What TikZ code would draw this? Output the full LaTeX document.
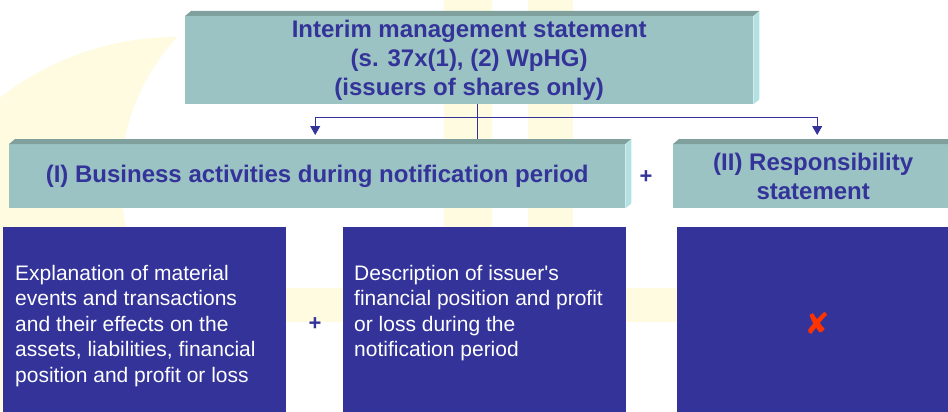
\documentclass[tikz,border=0pt]{standalone}
\usepackage{fontspec}
\setmainfont{Liberation Sans}
\newfontfamily\markfont{DejaVu Sans}
\usetikzlibrary{arrows.meta,calc,positioning}

\definecolor{boxfront}{HTML}{9CC3C3}
\definecolor{boxtop}{HTML}{7FA09D}
\definecolor{boxside}{HTML}{B4E2E2}
\definecolor{navy}{HTML}{333399}
\definecolor{paleyellow}{HTML}{FFFBE1}
\definecolor{crossred}{HTML}{FF3300}

\tikzset{
  slab/.style={rectangle, fill=boxfront, inner sep=0pt, anchor=north west,
    align=center, text=navy, font=\bfseries\fontsize{24}{29}\selectfont},
  block/.style={rectangle, fill=navy, inner sep=0pt, anchor=north west},
  blocktext/.style={anchor=north west, inner sep=0pt, align=left, text=white,
    font=\fontsize{21}{25.5}\selectfont},
  plus/.style={inner sep=0pt, text=navy, font=\bfseries\fontsize{22}{22}\selectfont},
  link/.style={draw=navy, line width=0.9pt},
  wmark/.style={fill=paleyellow},
}

\begin{document}
\begin{tikzpicture}[x=1pt,y=-1pt]
  \useasboundingbox (0,0) rectangle (948,412);
  \clip (0,0) rectangle (948,412);

  % faint logo behind everything
  \begin{scope}
    \clip (0,0) rectangle (190,412);
    \fill[wmark] (176,323) circle (286pt);
    \fill[white] (330,180) circle (209pt);
  \end{scope}
  \fill[wmark] (444,0) rectangle (492,412);
  \fill[wmark] (528,0) rectangle (573,412);
  \fill[wmark] (286,288) rectangle (677,322);

  % headings
  \node[slab, minimum width=568pt, minimum height=88pt] (ims) at (185,16)
    {Interim management statement\\(s. 37x(1), (2) WpHG)\\(issuers of shares only)};
  \node[slab, minimum width=616pt, minimum height=64pt] (act) at (9,144)
    {(I) Business activities during notification period};
  \node[slab, minimum width=280pt, minimum height=64pt] (resp) at (673,144)
    {(II) Responsibility\\statement};

  % content blocks
  \node[block, minimum width=283pt, minimum height=190pt] (expl) at (3,227) {};
  \node[block, minimum width=283pt, minimum height=190pt] (desc) at (343,227) {};
  \node[block, minimum width=276pt, minimum height=190pt] (none) at (677,227) {};

  \node[blocktext] (expltxt) at ([shift={(12,38)}]expl.north west)
    {Explanation of material\\events and transactions\\and their effects on the\\assets, liabilities, financial\\position and profit or loss};
  \node[blocktext] (desctxt) at ([shift={(11,38)}]desc.north west)
    {Description of issuer\textquotesingle s\\financial position and profit\\or loss during the\\notification period};
  \node[text=crossred, inner sep=0pt, font=\markfont\bfseries\fontsize{30}{30}\selectfont] (cross) at ([shift={(2,1)}]none.center) {✘};

  \node[plus] (plusI) at (646,177) {+};
  \node[plus] (plusII) at (315,324) {+};

  % connectors
  \coordinate (fork) at ([xshift=8pt,yshift=-13pt]ims.south);
  \draw[link] ([xshift=8pt]ims.south) -- ([xshift=8pt]ims.south |- act.north);
  \draw[link, -{Triangle[width=10pt,length=9pt]}, shorten >=9pt] (fork) -| ([xshift=-2pt]act.north);
  \draw[link, -{Triangle[width=10pt,length=9pt]}, shorten >=9pt] (fork) -| ([xshift=4pt]resp.north);

  % bevel faces of the headings
  \foreach \b in {ims,act,resp} {
    \fill[boxtop] (\b.north west) -- ++(6,-5) -- ($(\b.north east)+(6,-5)$) -- (\b.north east) -- cycle;
    \fill[boxside] (\b.north east) -- ++(6,-5) -- ($(\b.south east)+(6,-5)$) -- (\b.south east) -- cycle;
  }
\end{tikzpicture}
\end{document}
